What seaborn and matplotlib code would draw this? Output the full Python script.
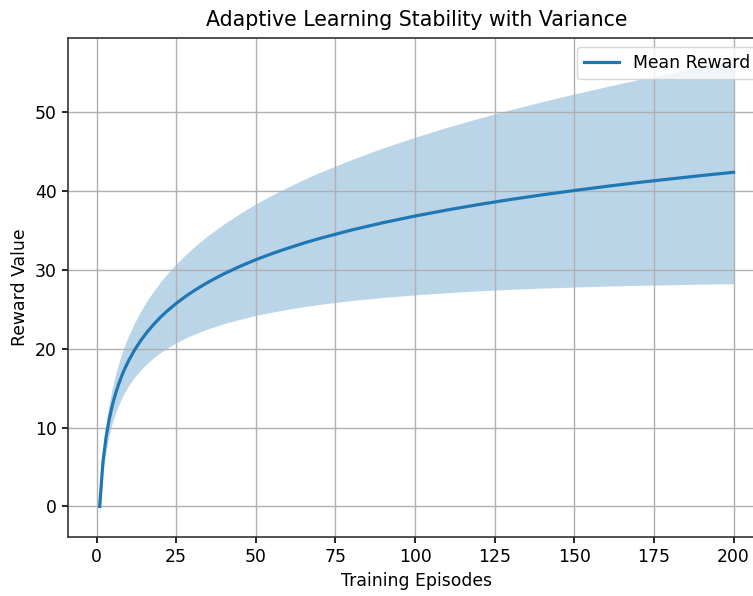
import numpy as np
import pandas as pd
import matplotlib
matplotlib.use("Agg")
import matplotlib.pyplot as plt
import seaborn as sns

# Datos
episodes = [1, 2, 3, 4, 5, 6, 7, 8, 9, 10, 12, 14, 16, 18, 20, 22, 25, 28, 31, 35, 40, 45,
            50, 55, 60, 65, 70, 80, 90, 100, 110, 120, 130, 140, 150, 160, 170, 180, 190, 200]
mean_reward = [0.00, 5.55, 8.79, 11.09, 12.88, 14.33, 15.57, 16.64, 17.58, 18.42, 19.88,
               21.11, 22.18, 23.12, 23.97, 24.73, 25.75, 26.66, 27.47, 28.44, 29.51, 30.45,
               31.30, 32.06, 32.75, 33.40, 33.99, 35.06, 36.00, 36.84, 37.60, 38.30, 38.94,
               39.53, 40.08, 40.60, 41.09, 41.54, 41.98, 42.39]
spread = [1.00, 1.41, 1.73, 2.00, 2.24, 2.45, 2.65, 2.83, 3.00, 3.16, 3.46, 3.74, 4.00,
          4.24, 4.47, 4.69, 5.00, 5.29, 5.57, 5.92, 6.32, 6.71, 7.07, 7.42, 7.75, 8.06,
          8.37, 8.94, 9.49, 10.00, 10.49, 10.95, 11.40, 11.83, 12.25, 12.65, 13.04, 13.42,
          13.78, 14.14]

df = pd.DataFrame({"episode": episodes, "mean": mean_reward, "spread": spread})
df["lower"] = df["mean"] - df["spread"]
df["upper"] = df["mean"] + df["spread"]

plt.rcParams.update({
    "font.size": 12.4,
    "axes.linewidth": 1.2,
    "grid.linewidth": 1.0,
    "xtick.major.width": 1.2,
    "ytick.major.width": 1.2,
    "xtick.major.size": 4.5,
    "ytick.major.size": 4.5,
})

fig = plt.figure(figsize=(7.53, 5.96), dpi=100)
ax = fig.add_axes([0.0903, 0.099, 0.926, 0.837])

sns.lineplot(data=df, x="episode", y="mean", ax=ax, color="#1f77b4", linewidth=2.3,
             label="Mean Reward")
ax.fill_between(df["episode"], df["lower"], df["upper"], color="#1f77b4", alpha=0.3,
                linewidth=0)

ax.set_title("Adaptive Learning Stability with Variance", fontsize=14.8, pad=9)
ax.set_xlabel("Training Episodes")
ax.set_ylabel("Reward Value")
ax.grid(True)
for s in ax.spines.values():
    s.set_color("#333333")
ax.legend(loc="upper right")

fig.savefig("out.png", dpi=100)
